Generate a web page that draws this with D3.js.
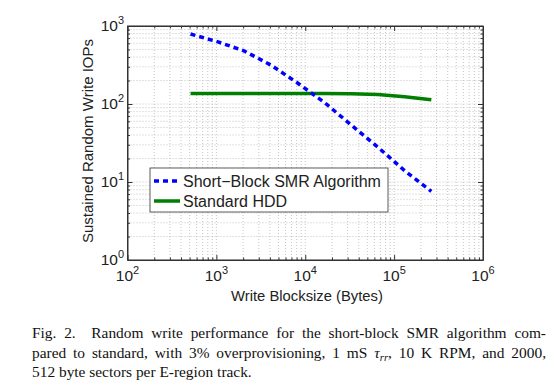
<!DOCTYPE html>
<html><head><meta charset="utf-8">
<script src="https://cdn.jsdelivr.net/npm/d3@7"></script>
<style>body{margin:0;background:#fff}svg{display:block}</style>
</head><body>
<svg id="c" width="554" height="381"></svg>
<script>
const blocksizes = [512, 1024, 2048, 4096, 8192, 16384, 32768, 65536, 131072, 262144];
const smrIops = [790, 630, 480, 316, 186, 105, 54, 28, 14, 7.6];
const hddIops = [136, 136, 136, 136, 136, 136, 135, 132, 124, 113];
const xTickExps = [2, 3, 4, 5, 6];
const yTickExps = [0, 1, 2, 3];
const seriesNames = ["Short\u2212Block SMR Algorithm", "Standard HDD"];

const svg = d3.select("#c");
const L = 127.5, R = 483, T = 26, B = 260;
const x = d3.scaleLog().domain([1e2, 1e6]).range([L, R]);
const y = d3.scaleLog().domain([1e0, 1e3]).range([B, T]);
const font = "Liberation Sans, Arial, sans-serif";

// grid
const minorX = [], minorY = [];
for (let e = 2; e < 6; e++) for (let k = 1; k <= 9; k++) minorX.push(k * Math.pow(10, e));
minorX.push(1e6);
for (let e = 0; e < 3; e++) for (let k = 1; k <= 9; k++) minorY.push(k * Math.pow(10, e));
minorY.push(1e3);
const g = svg.append("g");
g.selectAll(".gx").data(minorX).join("line")
  .attr("x1", d => x(d)).attr("x2", d => x(d)).attr("y1", T).attr("y2", B)
  .attr("stroke", "#b8b8b8").attr("stroke-width", 0.8).attr("stroke-dasharray", "1,2");
g.selectAll(".gy").data(minorY).join("line")
  .attr("y1", d => y(d)).attr("y2", d => y(d)).attr("x1", L).attr("x2", R)
  .attr("stroke", "#b8b8b8").attr("stroke-width", 0.8).attr("stroke-dasharray", "1,2");

// axes (ticks inside)
const ax = (gen, tx, ty) => svg.append("g").attr("transform", `translate(${tx},${ty})`).call(gen)
  .call(s => { s.selectAll("text").remove(); s.select(".domain").attr("stroke", "#333"); s.selectAll(".tick line").attr("stroke", "#333"); });
ax(d3.axisBottom(x).tickValues(minorX).tickSize(-4).tickSizeOuter(0), 0, B)
  .selectAll(".tick line").attr("y2", d => Math.abs(Math.log10(d) % 1) < 1e-9 ? -5 : -2.5);
ax(d3.axisTop(x).tickValues(minorX).tickSize(-4).tickSizeOuter(0), 0, T)
  .selectAll(".tick line").attr("y2", d => Math.abs(Math.log10(d) % 1) < 1e-9 ? 5 : 2.5);
ax(d3.axisLeft(y).tickValues(minorY).tickSize(-4).tickSizeOuter(0), L, 0)
  .selectAll(".tick line").attr("x2", d => Math.abs(Math.log10(d) % 1) < 1e-9 ? 5 : 2.5);
ax(d3.axisRight(y).tickValues(minorY).tickSize(-4).tickSizeOuter(0), R, 0)
  .selectAll(".tick line").attr("x2", d => Math.abs(Math.log10(d) % 1) < 1e-9 ? -5 : -2.5);

// tick labels
xTickExps.forEach(e => {
  const t = svg.append("text").attr("x", x(Math.pow(10, e))).attr("y", 281)
    .attr("font-family", font).attr("font-size", 15.5).attr("fill", "#222").attr("text-anchor", "middle");
  t.append("tspan").text("10");
  t.append("tspan").attr("dy", -7).attr("font-size", 11).text(e);
});
yTickExps.forEach(e => {
  const t = svg.append("text").attr("x", 124).attr("y", y(Math.pow(10, e)) + 5)
    .attr("font-family", font).attr("font-size", 15.5).attr("fill", "#222").attr("text-anchor", "end");
  t.append("tspan").text("10");
  t.append("tspan").attr("dy", -7).attr("font-size", 11).text(e);
});

// axis titles
svg.append("text").attr("x", 307).attr("y", 301).attr("text-anchor", "middle")
  .attr("font-family", font).attr("font-size", 14.8).attr("fill", "#222").text("Write Blocksize (Bytes)");
svg.append("text").attr("transform", `translate(93,${(T + B) / 2 - 2}) rotate(-90)`).attr("text-anchor", "middle")
  .attr("font-family", font).attr("font-size", 15).attr("fill", "#222").text("Sustained Random Write IOPs");

// lines
const line = d3.line().x(d => x(d[0])).y(d => y(d[1]));
svg.append("path").datum(blocksizes.map((b, i) => [b, hddIops[i]])).attr("d", line)
  .attr("fill", "none").attr("stroke", "#007f00").attr("stroke-width", 3.5);
svg.append("path").datum(blocksizes.map((b, i) => [b, smrIops[i]])).attr("d", line)
  .attr("fill", "none").attr("stroke", "#0000ff").attr("stroke-width", 3.5).attr("stroke-dasharray", "5,4");

// frame
svg.append("rect").attr("x", L).attr("y", T).attr("width", R - L).attr("height", B - T)
  .attr("fill", "none").attr("stroke", "#333").attr("stroke-width", 1);

// legend
const lg = svg.append("g");
lg.append("rect").attr("x", 150).attr("y", 168).attr("width", 238).attr("height", 44)
  .attr("fill", "#fff").attr("stroke", "#333").attr("stroke-width", 0.8);
const styles = [{c: "#0000ff", d: "5,4"}, {c: "#007f00", d: null}];
seriesNames.forEach((n, i) => {
  const yy = 181 + i * 20;
  lg.append("line").attr("x1", 154).attr("x2", 180).attr("y1", yy).attr("y2", yy)
    .attr("stroke", styles[i].c).attr("stroke-width", 3.5).attr("stroke-dasharray", styles[i].d);
  lg.append("text").attr("x", 183).attr("y", yy + 5.5).attr("font-family", font).attr("font-size", 16)
    .attr("fill", "#222").text(n);
});

// caption
const cf = "Liberation Serif, Times New Roman, serif";
const cap = [
  {words: ["Fig.", "2.", "", "Random", "write", "performance", "for", "the", "short-block", "SMR", "algorithm", "com-"], just: true},
  {words: ["pared", "to", "standard,", "with", "3%", "overprovisioning,", "1", "mS", "TAU", "10", "K", "RPM,", "and", "2000,"], just: true},
  {words: ["512", "byte", "sectors", "per", "E-region", "track."], just: false}
];
const cx0 = 32, cx1 = 546, fs = 15.4;
cap.forEach((ln, li) => {
  const by = 338 + li * 19.5;
  const nodes = ln.words.map(w => {
    const t = svg.append("text").attr("y", by).attr("font-family", cf).attr("font-size", fs).attr("fill", "#111");
    if (w === "TAU") {
      t.append("tspan").attr("font-style", "italic").text("\u03c4");
      t.append("tspan").attr("font-style", "italic").attr("font-size", fs * 0.7).attr("dy", 3).text("rr");
      t.append("tspan").attr("dy", -3).text(",");
    } else t.text(w);
    return t;
  });
  const widths = nodes.map(n => n.node().getComputedTextLength());
  const total = widths.reduce((a, b) => a + b, 0);
  const gap = ln.just ? (cx1 - cx0 - total) / (nodes.length - 1) : fs * 0.25;
  let cx = cx0;
  nodes.forEach((n, i) => { n.attr("x", cx); cx += widths[i] + gap; });
});
</script>
</body></html>
